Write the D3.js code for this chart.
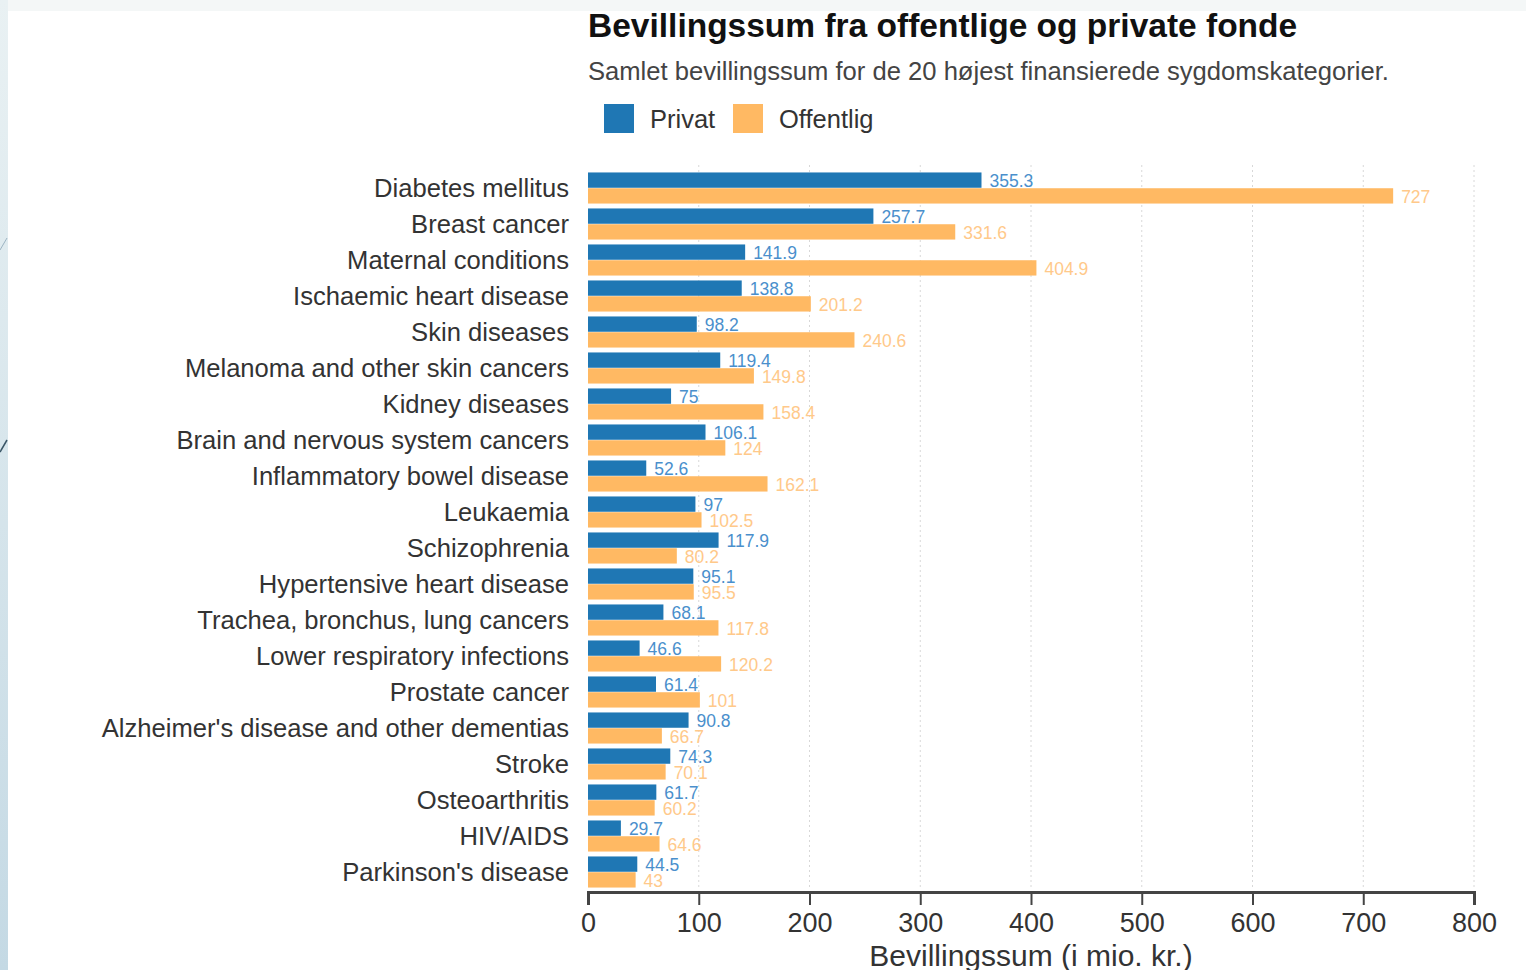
<!DOCTYPE html>
<html>
<head>
<meta charset="utf-8">
<script src="https://cdn.jsdelivr.net/npm/d3@7"></script>
<style>
  html, body { margin: 0; padding: 0; background: #ffffff; }
  svg { display: block; }
</style>
</head>
<body>
<svg id="chart" width="1526" height="970"></svg>
<script>
// Disease categories, ordered by total funding
const categories = [
  "Diabetes mellitus", "Breast cancer", "Maternal conditions", "Ischaemic heart disease",
  "Skin diseases", "Melanoma and other skin cancers", "Kidney diseases",
  "Brain and nervous system cancers", "Inflammatory bowel disease", "Leukaemia",
  "Schizophrenia", "Hypertensive heart disease", "Trachea, bronchus, lung cancers",
  "Lower respiratory infections", "Prostate cancer", "Alzheimer's disease and other dementias",
  "Stroke", "Osteoarthritis", "HIV/AIDS", "Parkinson's disease"
];
// Funding from private foundations (mio. kr.)
const privat = [355.3, 257.7, 141.9, 138.8, 98.2, 119.4, 75, 106.1, 52.6, 97,
                117.9, 95.1, 68.1, 46.6, 61.4, 90.8, 74.3, 61.7, 29.7, 44.5];
// Funding from public foundations (mio. kr.)
const offentlig = [727, 331.6, 404.9, 201.2, 240.6, 149.8, 158.4, 124, 162.1, 102.5,
                   80.2, 95.5, 117.8, 120.2, 101, 66.7, 70.1, 60.2, 64.6, 43];
const seriesNames = ["Privat", "Offentlig"];
const xTicks = [0, 100, 200, 300, 400, 500, 600, 700, 800];

const colors = { Privat: "#1f77b4", Offentlig: "#ffb963" };
const labelColors = { Privat: "#4a8fcc", Offentlig: "#ffc98a" };
const font = "'Liberation Sans', Arial, sans-serif";

const svg = d3.select("#chart");

// page backdrop: faint top band and light blue left edge
const defs = svg.append("defs");
const grad = defs.append("linearGradient").attr("id", "edge").attr("x1", 0).attr("y1", 0).attr("x2", 0).attr("y2", 1);
grad.append("stop").attr("offset", "0%").attr("stop-color", "#e9f1f3");
grad.append("stop").attr("offset", "100%").attr("stop-color", "#c4d9e4");
svg.append("rect").attr("x", 0).attr("y", 0).attr("width", 1526).attr("height", 11).attr("fill", "#f4f7f7");
svg.append("rect").attr("x", 0).attr("y", 0).attr("width", 8).attr("height", 970).attr("fill", "url(#edge)");
svg.append("line").attr("x1", 0).attr("y1", 452).attr("x2", 7).attr("y2", 440)
  .attr("stroke", "#3a5566").attr("stroke-width", 1.5);
svg.append("line").attr("x1", 0).attr("y1", 250).attr("x2", 7).attr("y2", 238)
  .attr("stroke", "#9db4c2").attr("stroke-width", 1);

const x = d3.scaleLinear().domain([0, 800]).range([588, 1474]);
const y = d3.scaleBand().domain(categories).range([170, 890]).paddingInner(0.11).paddingOuter(0.055);
const ySub = d3.scaleBand().domain(seriesNames).range([0, y.bandwidth()]).padding(0.03);

// title, subtitle
svg.append("text").attr("x", 588).attr("y", 37)
  .attr("font-family", font).attr("font-weight", "bold").attr("font-size", 33.5)
  .attr("fill", "#111").text("Bevillingssum fra offentlige og private fonde");
svg.append("text").attr("x", 588).attr("y", 80)
  .attr("font-family", font).attr("font-size", 25.6)
  .attr("fill", "#444").text("Samlet bevillingssum for de 20 højest finansierede sygdomskategorier.");

// legend
const legend = svg.append("g");
const legendItems = [{ name: "Privat", x: 604, tx: 650 }, { name: "Offentlig", x: 733, tx: 779 }];
legend.selectAll("rect").data(legendItems).join("rect")
  .attr("x", d => d.x).attr("y", 104).attr("width", 30).attr("height", 29)
  .attr("fill", d => colors[d.name]);
legend.selectAll("text").data(legendItems).join("text")
  .attr("x", d => d.tx).attr("y", 119).attr("dy", "0.35em")
  .attr("font-family", font).attr("font-size", 25.5).attr("fill", "#333")
  .text(d => d.name);

// vertical dotted gridlines
svg.append("g").selectAll("line").data(xTicks.slice(1)).join("line")
  .attr("x1", d => x(d)).attr("x2", d => x(d)).attr("y1", 165).attr("y2", 890)
  .attr("stroke", "#d8d8d8").attr("stroke-width", 1).attr("stroke-dasharray", "2,3");

// bars and value labels
const rows = categories.map((c, i) => ({ cat: c, values: [
  { key: "Privat", value: privat[i] }, { key: "Offentlig", value: offentlig[i] }] }));
const groups = svg.append("g").selectAll("g").data(rows).join("g")
  .attr("transform", d => `translate(0,${y(d.cat)})`);
groups.selectAll("rect").data(d => d.values).join("rect")
  .attr("x", x(0)).attr("y", d => ySub(d.key))
  .attr("width", d => x(d.value) - x(0)).attr("height", ySub.bandwidth())
  .attr("fill", d => colors[d.key]);
groups.selectAll("text").data(d => d.values).join("text")
  .attr("x", d => x(d.value) + 8).attr("y", d => ySub(d.key) + ySub.bandwidth() / 2 + 1)
  .attr("dy", "0.35em")
  .attr("font-family", font).attr("font-size", 17.5)
  .attr("fill", d => labelColors[d.key]).text(d => d.value);

// category labels
svg.append("g").selectAll("text").data(categories).join("text")
  .attr("x", 569).attr("y", d => y(d) + y.bandwidth() / 2).attr("dy", "0.35em")
  .attr("text-anchor", "end").attr("font-family", font).attr("font-size", 25.6)
  .attr("fill", "#333").text(d => d);

// x axis
const xAxis = svg.append("g").attr("transform", "translate(0,892)")
  .call(d3.axisBottom(x).tickValues(xTicks).tickSize(13).tickPadding(8).tickFormat(d3.format("d")));
xAxis.select(".domain").attr("stroke", "#444").attr("stroke-width", 3);
xAxis.selectAll(".tick line").attr("stroke", "#444").attr("stroke-width", 2);
xAxis.selectAll(".tick text").attr("font-family", font).attr("font-size", 27).attr("fill", "#333");

svg.append("text").attr("x", 1031).attr("y", 966).attr("text-anchor", "middle")
  .attr("font-family", font).attr("font-size", 30).attr("fill", "#333")
  .text("Bevillingssum (i mio. kr.)");
</script>
</body>
</html>
